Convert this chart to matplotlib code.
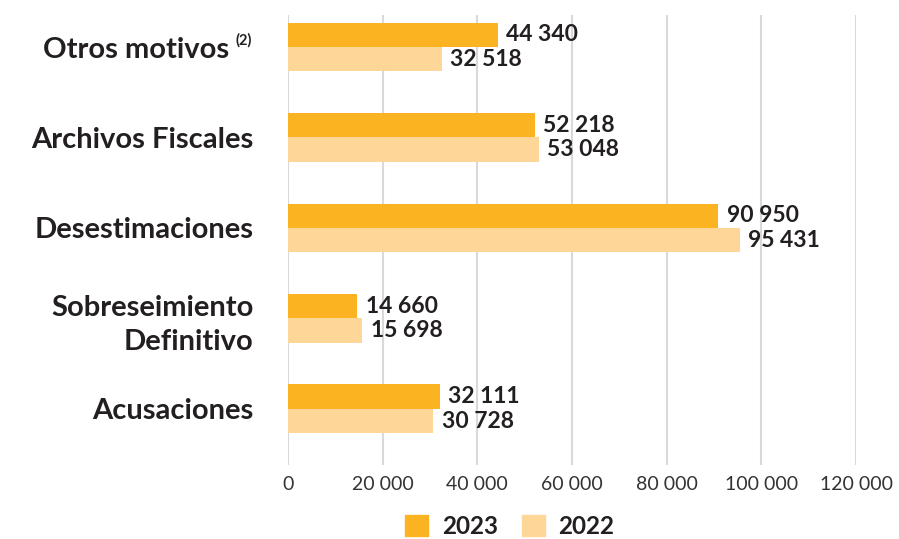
import matplotlib
matplotlib.use("Agg")
import matplotlib.pyplot as plt
import matplotlib.transforms as mtransforms
from matplotlib.patches import Patch

plt.rcParams['font.family'] = ['Lato', 'DejaVu Sans']

# data (top to bottom in the chart)
categories = ['Otros motivos', 'Archivos Fiscales', 'Desestimaciones',
              'Sobreseimiento\nDefinitivo', 'Acusaciones']
values_2023 = [44340, 52218, 90950, 14660, 32111]
values_2022 = [32518, 53048, 95431, 15698, 30728]
xticks = [0, 20000, 40000, 60000, 80000, 100000, 120000]

c2023 = '#FBB321'
c2022 = '#FDD698'
txt = '#231F20'


def fmt(v):
    return f"{v:,}".replace(',', ' ')


fig = plt.figure(figsize=(8.99, 5.39), dpi=100)
ax = fig.add_axes([288 / 899, 1 - 465 / 539, (856 - 288) / 899, 450 / 539])

n = len(categories)
ypos = [n - 1 - i for i in range(n)]
h = 0.27

b1 = ax.barh([y + h / 2 for y in ypos], values_2023, height=h, color=c2023, zorder=3)
b2 = ax.barh([y - h / 2 for y in ypos], values_2022, height=h, color=c2022, zorder=3)

for bars, vals in ((b1, values_2023), (b2, values_2022)):
    for b, v in zip(bars, vals):
        ax.annotate(fmt(v), xy=(b.get_width(), b.get_y() + b.get_height() / 2),
                    xytext=(6, 0), textcoords='offset points', ha='left', va='center',
                    fontsize=16.5, fontweight='bold', color=txt)

ax.set_xlim(0, 120000)
ax.set_ylim(-0.62, n - 1 + 0.354)
ax.set_xticks(xticks)
ax.set_xticklabels([fmt(t) for t in xticks], fontsize=14, color='#333333')
ax.set_yticks(ypos)
ax.set_yticklabels(categories, fontsize=21, fontweight='bold', color=txt)
ax.tick_params(axis='both', length=0)
ax.tick_params(axis='y', pad=25)
ax.tick_params(axis='x', pad=8)
ax.grid(axis='x', color='#D9D9D9', linewidth=1.5, zorder=0)
for s in ax.spines.values():
    s.set_visible(False)

for lab in ax.get_yticklabels():
    if '\n' in lab.get_text():
        lab.set_linespacing(1.4)

# "(2)" superscript on the first category
first = ax.get_yticklabels()[0]
first.set_transform(first.get_transform() +
                    mtransforms.ScaledTranslation(-24 / 100, 0, fig.dpi_scale_trans))
ax.annotate('(2)', xy=(0, ypos[0]), xycoords=('axes fraction', 'data'),
            xytext=(-36, 7), textcoords='offset pixels', ha='right', va='center',
            fontsize=10.5, fontweight='bold', color=txt)

handles = [Patch(color=c2023), Patch(color=c2022)]
fig.legend(handles, ['2023', '2022'], loc='center', bbox_to_anchor=(510 / 899, 13 / 539),
           ncol=2, frameon=False, prop={'size': 17.5, 'weight': 'bold'},
           handlelength=0.95, handleheight=0.95, handletextpad=0.55, columnspacing=1.0,
           labelcolor=txt, borderpad=0.2)

fig.savefig('out.png', dpi=100)
